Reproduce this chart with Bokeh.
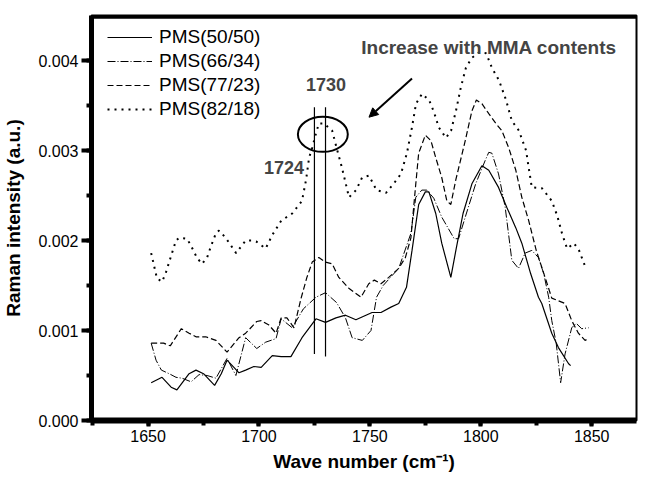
from bokeh.plotting import figure
from bokeh.models import (Range1d, SingleIntervalTicker, NumeralTickFormatter, Span,
                          Arrow, NormalHead, Label)
from bokeh.embed import file_html
from bokeh.resources import INLINE

# ---------------- data ----------------
x_5050 = [1651.4, 1656.3, 1660.4, 1663, 1668.5, 1671.6, 1675, 1680, 1683, 1685.6, 1688.7, 1691,
          1694, 1697.7, 1701, 1706, 1710, 1714.4, 1719.4, 1725.7, 1730, 1734.7, 1739, 1743.7,
          1751, 1755, 1759.5, 1763, 1766.5, 1769, 1772, 1775, 1776.6, 1779.7, 1782.4, 1786.5,
          1789, 1792, 1796, 1800.5, 1803.6, 1808, 1811.7, 1815.8, 1818.5, 1822.5, 1826, 1827.5,
          1832, 1835, 1839.6, 1840.5]
y_5050 = [0.00042, 0.00048, 0.00037, 0.00034, 0.00052, 0.00056, 0.00052, 0.00039, 0.00052, 0.00067,
          0.00059, 0.00053, 0.00056, 0.00060, 0.00059, 0.00072, 0.00071, 0.00071, 0.00092, 0.00113,
          0.00109, 0.00114, 0.00117, 0.00112, 0.00120, 0.00120, 0.00126, 0.00130, 0.00148, 0.00189,
          0.00240, 0.00254, 0.00254, 0.00230, 0.00197, 0.00159, 0.00192, 0.00230, 0.00263, 0.00283,
          0.00278, 0.00259, 0.00237, 0.00214, 0.00197, 0.00163, 0.00137, 0.00130, 0.00097, 0.00081,
          0.00063, 0.00061]

x_6634 = [1651.4, 1653.6, 1656, 1659.5, 1662.6, 1665.3, 1669.4, 1673, 1676.6, 1680.6, 1685.6, 1689.6,
          1694, 1699, 1703, 1707.7, 1710, 1715, 1720, 1725.7, 1730, 1735, 1739, 1742, 1746.6, 1750.5,
          1753, 1756, 1760, 1763, 1768.5, 1770.7, 1773.4, 1775.7, 1778.8, 1782.4, 1788, 1790, 1793,
          1797.7, 1802, 1803.6, 1805, 1808, 1811, 1814, 1817, 1820, 1823, 1826, 1828.4, 1830.6, 1832,
          1834, 1836, 1838, 1841, 1843, 1845.5, 1848.6]
y_6634 = [0.00086, 0.00067, 0.00056, 0.00052, 0.00048, 0.00047, 0.00043, 0.00051, 0.00050, 0.00047,
          0.00069, 0.00050, 0.00092, 0.00080, 0.00087, 0.00091, 0.00113, 0.00103, 0.00124, 0.00137,
          0.00142, 0.00131, 0.00114, 0.00092, 0.00089, 0.00100, 0.00137, 0.00150, 0.00161, 0.00169,
          0.00208, 0.00248, 0.00256, 0.00256, 0.00247, 0.00226, 0.00202, 0.00202, 0.00226, 0.00263,
          0.00289, 0.00298, 0.00297, 0.00274, 0.00237, 0.00178, 0.00169, 0.00186, 0.00189, 0.00181,
          0.00163, 0.00137, 0.00111, 0.00086, 0.00042, 0.00074, 0.00103, 0.00108, 0.00102, 0.00103]

x_7723 = [1651.4, 1657, 1660, 1665, 1668.5, 1671.6, 1676, 1680.6, 1685.6, 1691, 1694, 1699, 1701,
          1704.5, 1707.7, 1710, 1712.6, 1715.8, 1719, 1721.6, 1724, 1727, 1730, 1733, 1736, 1740.5,
          1746, 1749.5, 1752, 1755, 1758.5, 1763, 1766, 1768.5, 1770.7, 1772, 1775, 1777.5, 1779.7,
          1782.4, 1784.7, 1786.5, 1788.7, 1793, 1796, 1798, 1800.5, 1803.6, 1806.8, 1809.5, 1812.6,
          1815.8, 1818.5, 1821.6, 1825, 1829, 1832, 1835, 1838, 1841, 1844, 1847, 1848.6]
y_7723 = [0.00086, 0.00086, 0.00083, 0.00102, 0.00097, 0.00093, 0.00093, 0.00089, 0.00076, 0.00092,
          0.00097, 0.00110, 0.00111, 0.00106, 0.00097, 0.00114, 0.00114, 0.00103, 0.00136, 0.00159,
          0.00176, 0.00181, 0.00176, 0.00174, 0.00159, 0.00147, 0.00137, 0.00152, 0.00156, 0.00152,
          0.00159, 0.00169, 0.00181, 0.00203, 0.00263, 0.00297, 0.00317, 0.00311, 0.00292, 0.00270,
          0.00244, 0.00240, 0.00267, 0.00311, 0.00344, 0.00356, 0.00352, 0.00341, 0.00330, 0.00322,
          0.00303, 0.00278, 0.00248, 0.00222, 0.00189, 0.00159, 0.00136, 0.00133, 0.00130, 0.00111,
          0.00097, 0.00089, 0.00091]

x_8218 = [1651.4, 1654, 1656.3, 1658, 1660.4, 1662.6, 1664, 1667.6, 1669.8, 1672, 1674.3, 1676.6,
          1678.4, 1680.6, 1682, 1685, 1689.7, 1694, 1697, 1698.7, 1703, 1706, 1710, 1715, 1719.4,
          1721.2, 1722.6, 1724, 1725.7, 1727, 1729.3, 1733, 1735, 1737.4, 1740.6, 1743.8, 1746.5,
          1749.6, 1753, 1757.3, 1761, 1764, 1766.7, 1769, 1770.8, 1773.5, 1776.7, 1779, 1781, 1784.3,
          1786.6, 1788.8, 1791, 1793.3, 1796, 1799.2, 1802.4, 1805, 1808.2, 1811.4, 1814, 1817.2,
          1820.4, 1823, 1827.6, 1832, 1834.4, 1836.6, 1838.9, 1842, 1844.3, 1847.4]
y_8218 = [0.00186, 0.00158, 0.00154, 0.00164, 0.00183, 0.00200, 0.00203, 0.00202, 0.00192, 0.00181,
          0.00174, 0.00181, 0.00194, 0.00208, 0.00211, 0.00203, 0.00186, 0.00200, 0.00200, 0.00199,
          0.00191, 0.00206, 0.00222, 0.00230, 0.00244, 0.00267, 0.00292, 0.00303, 0.00319, 0.00330,
          0.00330, 0.00322, 0.00303, 0.00281, 0.00248, 0.00256, 0.00270, 0.00272, 0.00256, 0.00253,
          0.00264, 0.00274, 0.00297, 0.00326, 0.00352, 0.00363, 0.00356, 0.00342, 0.00326, 0.00314,
          0.00322, 0.00344, 0.00370, 0.00392, 0.00403, 0.00409, 0.00408, 0.00392, 0.00378, 0.00356,
          0.00333, 0.00322, 0.00300, 0.00259, 0.00258, 0.00244, 0.00228, 0.00208, 0.00191, 0.00197,
          0.00189, 0.00169]

series_names = ["PMS(50/50)", "PMS(66/34)", "PMS(77/23)", "PMS(82/18)"]

# marker lines at the two bands, ellipse and annotations
vline_x = [1725, 1730]
vline_bottom = [0.00074, 0.00071]
vline_top = [0.00348, 0.00348]
ellipse_x, ellipse_y, ellipse_w, ellipse_h = [1728.8], [0.00318], [22.5], [0.00039]
label_texts = ["1730", "1724"]
label_x = [1730.2, 1711.3]
label_y = [0.00373, 0.00281]
title_text = "Increase with MMA contents"
title_x, title_y = 1803.7, 0.00415
arrow_start = (1769.0, 0.00380)
arrow_end = (1749.6, 0.00337)

x_start, x_end = 1624.5, 1870.2
y_start, y_end = 0.0, 0.0045

FONT = "Liberation Sans"

p = figure(frame_width=545, frame_height=405, output_backend="svg", toolbar_location=None,
           x_range=Range1d(x_start, x_end), y_range=Range1d(y_start, y_end),
           min_border_left=84, min_border_right=2, min_border_top=15, min_border_bottom=57,
           background_fill_color="white", border_fill_color="white")
p.grid.visible = False
p.outline_line_color = "black"
p.outline_line_width = 2

styles = [
    dict(line_dash="solid", line_width=1.2),
    dict(line_dash="8 2 1 2", line_width=1.0),
    dict(line_dash="6 3", line_width=1.2),
    dict(line_dash="2 5", line_width=2.0),
]
for xs, ys, name, st in zip([x_5050, x_6634, x_7723, x_8218],
                            [y_5050, y_6634, y_7723, y_8218], series_names, styles):
    p.line(xs, ys, line_color="black", legend_label=name, **st)

p.segment(x0=vline_x, y0=vline_bottom, x1=vline_x, y1=vline_top, line_color="black", line_width=1.2)
p.ellipse(x=ellipse_x, y=ellipse_y, width=ellipse_w, height=ellipse_h,
          fill_color=None, line_color="black", line_width=2)

for t, lx, ly in zip(label_texts, label_x, label_y):
    p.add_layout(Label(x=lx, y=ly, text=t, text_font=FONT, text_font_style="bold",
                       text_font_size="18px", text_align="center", text_baseline="alphabetic"))
p.add_layout(Label(x=title_x, y=title_y, text=title_text, text_font=FONT, text_font_style="bold",
                   text_font_size="19px", text_align="center", text_baseline="alphabetic"))
p.add_layout(Arrow(x_start=arrow_start[0], y_start=arrow_start[1], x_end=arrow_end[0],
                   y_end=arrow_end[1], line_width=2, line_color="black",
                   end=NormalHead(size=9, fill_color="black", line_color="black")))

# thick top spine (drawn just inside the frame edge)
p.add_layout(Span(location=y_end - 0.000015, dimension="width", line_color="black", line_width=4))

# axes
p.xaxis.ticker = SingleIntervalTicker(interval=50, num_minor_ticks=2)
p.yaxis.ticker = SingleIntervalTicker(interval=0.001, num_minor_ticks=2)
p.yaxis.formatter = NumeralTickFormatter(format="0.000")
for ax in (p.xaxis[0], p.yaxis[0]):
    ax.axis_line_color = "black"
    ax.major_tick_line_color = "black"
    ax.minor_tick_line_color = "black"
    ax.major_tick_in = 0
    ax.minor_tick_in = 0
    ax.major_tick_line_width = 4
    ax.minor_tick_line_width = 4
    ax.major_label_text_font = FONT
    ax.major_label_text_font_size = "16px"
    ax.major_label_text_color = "black"
    ax.axis_label_text_font = FONT
    ax.axis_label_text_font_style = "bold"
    ax.axis_label_text_font_size = "19px"
    ax.axis_label_text_color = "black"
p.xaxis.axis_line_width = 6
p.yaxis.axis_line_width = 5
p.xaxis.major_tick_out = 6
p.xaxis.minor_tick_out = 5
p.yaxis.major_tick_out = 10
p.yaxis.minor_tick_out = 5
p.xaxis.major_label_standoff = 3
p.yaxis.major_label_standoff = 3
p.xaxis.axis_label = "Wave number (cm\u207b\u00b9)"
p.yaxis.axis_label = "Raman intensity (a.u.)"
p.xaxis.axis_label_standoff = 6
p.yaxis.axis_label_standoff = 11

leg = p.legend[0]
leg.location = (16, 299)
leg.border_line_color = None
leg.background_fill_alpha = 0
leg.padding = 0
leg.margin = 0
leg.spacing = 0
leg.glyph_width = 45
leg.glyph_height = 24
leg.label_height = 24
leg.label_standoff = 7
leg.label_text_font = FONT
leg.label_text_font_size = "19px"
leg.label_text_color = "black"

open("out.html", "w").write(file_html(p, INLINE))
